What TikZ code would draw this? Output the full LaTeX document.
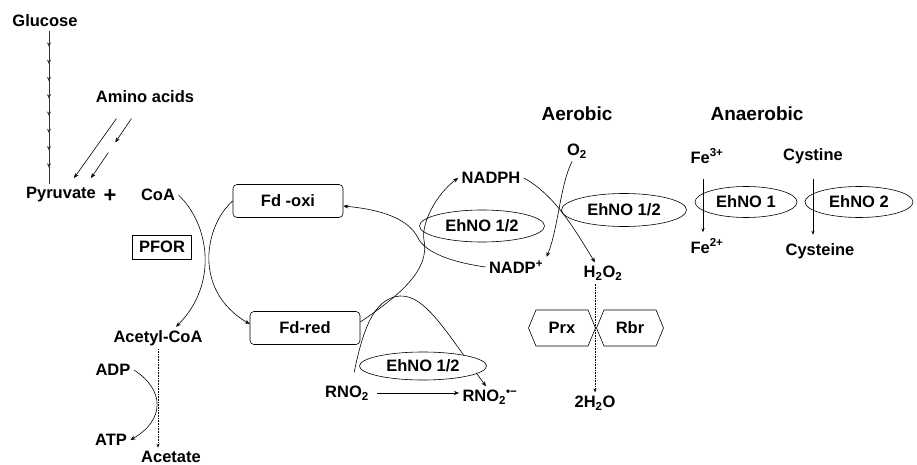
\documentclass[tikz,border=0pt]{standalone}
\usepackage{fontspec}
\setmainfont{Liberation Sans}
\usepackage{tikz}
\usetikzlibrary{arrows.meta, calc, shapes.geometric, shapes.symbols, decorations.markings}

\tikzset{
  flow/.style={-{Stealth[length=5pt,width=4pt]}, line width=0.6pt},
  thinflow/.style={-{Stealth[length=4pt,width=3pt]}, line width=0.5pt},
  dotflow/.style={-{Stealth[length=4pt,width=3pt]}, densely dotted, line width=0.6pt},
  glyc/.style={line width=0.6pt, black!80, postaction={decorate},
    decoration={markings, mark=between positions 0.106 and 0.9 step 0.1126 with {\arrow{Stealth[length=4.5pt,width=4pt]}}}},
  fdbox/.style={draw, rounded corners=4pt, minimum width=110pt, minimum height=33pt, line width=0.6pt},
  enzbox/.style={draw, minimum width=59pt, minimum height=24pt, inner sep=0pt, line width=0.6pt},
  enz/.style={ellipse, draw, fill=white, inner sep=0pt, line width=0.6pt},
  hexbox/.style={signal, signal to=west and east, signal pointer angle=135, draw,
    minimum width=67pt, minimum height=36pt, inner sep=0pt, line width=0.6pt},
  head/.style={font=\bfseries\fontsize{19}{22}\selectfont},
}

\begin{document}
\begin{tikzpicture}[x=1pt, y=-1pt, font=\bfseries\fontsize{16.5}{19}\selectfont]
    \useasboundingbox (0,0) rectangle (917,465);

    \node (glucose) at (45,21) {Glucose};
    \node (amino) at (145,97) {Amino acids};
    \node (pyr) at (61,195) {Pyruvate};
    \node[font=\bfseries\fontsize{22}{22}\selectfont] (plus) at (110,196) {+};
    \node (coa) at (158,195) {CoA};
    \node[enzbox] (pfor) at (162,247) {PFOR};
    \node (acetyl) at (158,338) {Acetyl-CoA};
    \node (adp) at (113,370) {ADP};
    \node (atp) at (111,440) {ATP};
    \node (acetate) at (171,457) {Acetate};
    \node[fdbox] (fdoxi) at (288,201) {Fd -oxi};
    \node[fdbox] (fdred) at (305,328) {Fd-red};

    \node[head] (aerobic) at (577,114) {Aerobic};
    \node[head] (anaerobic) at (757,114) {Anaerobic};
    \node (o2) at (577,151) {O\textsubscript{2}};
    \node (nadph) at (491,178) {NADPH};
    \node (nadpp) at (516,267) {NADP\textsuperscript{+}};
    \node (h2o2) at (603,273) {H\textsubscript{2}O\textsubscript{2}};
    \node[hexbox] (prx) at (562,328) {Prx};
    \node[hexbox] (rbr) at (630,328) {Rbr};
    \node (water) at (595,403) {2H\textsubscript{2}O};
    \node (rno) at (347,393) {RNO\textsubscript{2}};
    \node (rnorad) at (490,397) {RNO\textsubscript{2}\textsuperscript{•−}};
    \node (fe3) at (707,156) {Fe\textsuperscript{3+}};
    \node (fe2) at (707,246) {Fe\textsuperscript{2+}};
    \node (cystine) at (813,156) {Cystine};
    \node (cysteine) at (820,251) {Cysteine};

    \node[enz, minimum width=125pt, minimum height=32pt] (ehnoA) at (482,226) {EhNO 1/2};
    \node[enz, minimum width=125pt, minimum height=33pt] (ehnoB) at (624,210) {EhNO 1/2};
    \node[enz, minimum width=102pt, minimum height=31pt] (ehno1) at (746,202) {EhNO 1};
    \node[enz, minimum width=108pt, minimum height=31pt] (ehno2) at (859,202) {EhNO 2};

    \coordinate (gl) at ([xshift=4pt]glucose.south);
    \draw[glyc] (gl) -- (gl |- pyr.north);

    \coordinate (aa1) at ([xshift=24pt,yshift=-12pt]amino.south west);
    \coordinate (aa2) at ([xshift=39pt,yshift=-12pt]amino.south west);
    \coordinate (pa1) at ([xshift=13pt,yshift=6pt]pyr.north);
    \coordinate (pa2) at ([xshift=30pt,yshift=6pt]pyr.north);
    \draw[flow] (aa1) -- (pa1);
    \draw[flow] (aa2) -- ($(aa2)!0.4!(pa2)$);
    \draw[flow] ($(aa2)!0.57!(pa2)$) -- (pa2);

    \draw[flow] (coa.east) .. controls (210,225) and (218,285) .. ([xshift=18pt]acetyl.north);
    \draw[flow] (fdoxi.west) .. controls (205,225) and (192,290) .. ([yshift=4pt]fdred.west);
    \draw[flow] (adp.east) .. controls (165,390) and (165,420) .. (atp.east);
    \draw[dotflow] (acetyl.south) -- (acetyl.south |- acetate.north);

    \draw[flow] ([yshift=6pt]fdred.east) .. controls (400,295) and (430,270) .. (424,240)
        .. controls (421,225) and (435,195) .. (nadph.west);
    \draw[flow] (nadpp.west) .. controls (450,262) and (425,252) .. (418,238)
        .. controls (409,220) and (385,210) .. ([yshift=-5pt]fdoxi.east);

    \draw[flow, shorten <=10pt] ([xshift=5pt]rno.north) .. controls (362,335) and (372,298) .. (400,296)
        .. controls (425,295) and (445,330) .. ([xshift=-4pt]rnorad.north);
    \draw[flow, shorten <=5pt] (rno.east) -- (rno.east -| rnorad.west);
    \node[enz, minimum width=127pt, minimum height=28pt] (ehnoC) at (423,366) {EhNO 1/2};

    \draw[flow] ([xshift=-5pt]o2.south) .. controls (560,185) and (558,230) .. (nadpp.north east);
    \draw[flow] (nadph.east) .. controls (555,195) and (575,230) .. ([xshift=-8pt]h2o2.north);
    \draw[dotflow] (h2o2.south -| water.north) -- (water.north);

    \draw[thinflow, shorten <=12pt, shorten >=3pt] ([xshift=-4pt]fe3.south) -- ([xshift=-4pt]fe2.north);
    \draw[thinflow, shorten <=12pt, shorten >=5pt] (cystine.south) -- (cystine.south |- cysteine.north);
\end{tikzpicture}
\end{document}
